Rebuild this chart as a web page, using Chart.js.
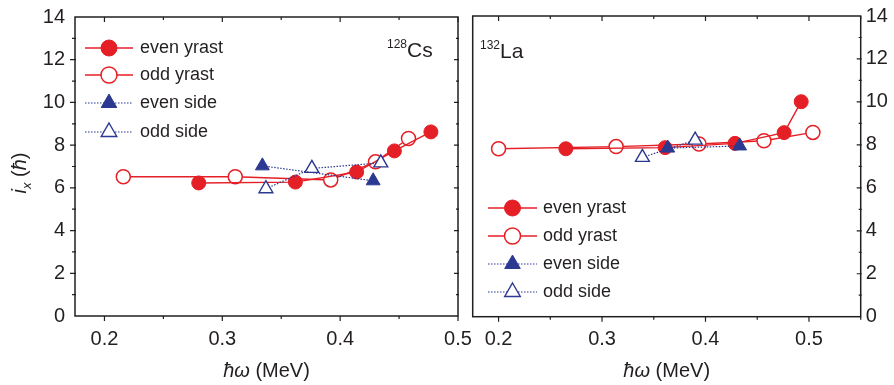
<!DOCTYPE html>
<html>
<head>
<meta charset="utf-8">
<script src="https://cdn.jsdelivr.net/npm/chart.js@4/dist/chart.umd.min.js"></script>
<style>
  html, body { margin: 0; padding: 0; background: #fff; }
  #wrap { position: relative; width: 894px; height: 385px; overflow: hidden; }
  #wrap canvas { position: absolute; top: 0; }
</style>
</head>
<body>
<div id="wrap">
  <canvas id="csChart" width="480" height="385" style="left:0"></canvas>
  <canvas id="laChart" width="434" height="385" style="left:460px"></canvas>
</div>
<script>
// 128Cs
var csEvenYrastX = [0.280, 0.362, 0.414, 0.446, 0.477];
var csEvenYrastY = [6.23, 6.27, 6.74, 7.73, 8.62];
var csOddYrastX  = [0.216, 0.311, 0.392, 0.430, 0.458];
var csOddYrastY  = [6.52, 6.52, 6.37, 7.22, 8.31];
var csEvenSideX  = [0.334, 0.428];
var csEvenSideY  = [7.03, 6.33];
var csOddSideX   = [0.337, 0.376, 0.4345];
var csOddSideY   = [5.96, 6.91, 7.17];

// 132La
var laEvenYrastX = [0.265, 0.361, 0.4285, 0.476, 0.4925];
var laEvenYrastY = [7.82, 7.87, 8.07, 8.57, 10.01];
var laOddYrastX  = [0.200, 0.3136, 0.3937, 0.4565, 0.5038];
var laOddYrastY  = [7.82, 7.92, 8.04, 8.19, 8.58];
var laEvenSideX  = [0.3635, 0.433];
var laEvenSideY  = [7.85, 7.95];
var laOddSideX   = [0.339, 0.390];
var laOddSideY   = [7.42, 8.22];

var seriesNames = ['even yrast', 'odd yrast', 'even side', 'odd side'];
var yTicks = [0, 2, 4, 6, 8, 10, 12, 14];
var xTicks = [0.2, 0.3, 0.4, 0.5];

var RED = '#e41f26';
var BLUE = '#2b3990';
var INK = '#231f20';
var FONT = '"Liberation Sans", Arial, sans-serif';

function pts(xs, ys) {
  var out = [];
  for (var i = 0; i < xs.length; i++) out.push({x: xs[i], y: ys[i]});
  return out;
}

function makeSets(ey, oy, es, os) {
  // side bands go first so they are painted over the yrast curves
  return [
    {label: seriesNames[2], data: es, borderColor: BLUE, backgroundColor: BLUE,
     borderWidth: 1.2, borderDash: [1.5, 1.5], pointStyle: 'triangle', pointRadius: 8,
     pointBorderWidth: 1, pointBackgroundColor: BLUE, pointBorderColor: BLUE},
    {label: seriesNames[3], data: os, borderColor: BLUE, backgroundColor: '#fff',
     borderWidth: 1.2, borderDash: [1.5, 1.5], pointStyle: 'triangle', pointRadius: 8,
     pointBorderWidth: 1.4, pointBackgroundColor: '#fff', pointBorderColor: BLUE},
    {label: seriesNames[0], data: ey, borderColor: RED, backgroundColor: RED,
     borderWidth: 1.4, pointStyle: 'circle', pointRadius: 7,
     pointBorderWidth: 1, pointBackgroundColor: RED, pointBorderColor: RED},
    {label: seriesNames[1], data: oy, borderColor: RED, backgroundColor: '#fff',
     borderWidth: 1.4, pointStyle: 'circle', pointRadius: 7,
     pointBorderWidth: 1.5, pointBackgroundColor: '#fff', pointBorderColor: RED}
  ];
}

// frame, in/out ticks, legend and extra labels
var decoPlugin = {
  id: 'deco',
  afterDraw: function(chart) {
    var o = chart.options.plugins.deco;
    var ctx = chart.ctx, a = chart.chartArea;
    var sx = chart.scales.x, sy = chart.scales.y;
    ctx.save();
    ctx.strokeStyle = INK;
    ctx.lineWidth = 1.5;
    ctx.strokeRect(a.left, a.top, a.right - a.left, a.bottom - a.top);

    ctx.lineWidth = 1.2;
    ctx.beginPath();
    for (var v = 0.15; v <= sx.max + 1e-9; v += 0.05) {
      if (v < sx.min - 1e-9) continue;
      var major = Math.abs(Math.round(v * 10) - v * 10) < 1e-6;
      var px = sx.getPixelForValue(v);
      var len = major ? 5 : 3;
      ctx.moveTo(px, a.bottom); ctx.lineTo(px, a.bottom + len);
      ctx.moveTo(px, a.top); ctx.lineTo(px, a.top + len);
    }
    for (var k = 1; k < 14; k++) {
      var py = sy.getPixelForValue(k);
      var l = (k % 2 === 0) ? 5 : 3;
      if (o.leftTicks) { ctx.moveTo(a.left - l, py); ctx.lineTo(a.left + 1, py); }
      ctx.moveTo(a.right - l + 1, py); ctx.lineTo(a.right + 1, py);
    }
    ctx.stroke();

    // legend drawn from the dataset styles
    ctx.fillStyle = INK;
    ctx.font = '18px ' + FONT;
    ctx.textBaseline = 'middle';
    var order = [2, 3, 0, 1];
    for (var i = 0; i < order.length; i++) {
      var ds = chart.data.datasets[order[i]];
      var ly = o.legend.y[i];
      ctx.save();
      ctx.strokeStyle = ds.borderColor;
      ctx.lineWidth = ds.borderWidth;
      ctx.setLineDash(ds.borderDash || []);
      ctx.beginPath();
      ctx.moveTo(o.legend.x1, ly); ctx.lineTo(o.legend.x2, ly);
      ctx.stroke();
      ctx.setLineDash([]);
      ctx.fillStyle = ds.pointBackgroundColor;
      ctx.strokeStyle = ds.pointBorderColor;
      ctx.lineWidth = ds.pointBorderWidth;
      Chart.helpers.drawPoint(ctx, {pointStyle: ds.pointStyle, radius: ds.pointRadius + 1,
        borderWidth: ds.pointBorderWidth, rotation: 0}, (o.legend.x1 + o.legend.x2) / 2, ly);
      ctx.restore();
      ctx.fillText(ds.label, o.legend.tx, ly);
    }

    // nuclide label
    ctx.textBaseline = 'alphabetic';
    ctx.font = '12px ' + FONT;
    ctx.fillText(o.mass, o.nucX, o.nucY - 9);
    var mw = ctx.measureText(o.mass).width;
    ctx.font = '21px ' + FONT;
    ctx.fillText(o.element, o.nucX + mw, o.nucY);

    // x title: italic hbar-omega then (MeV)
    var cx = (a.left + a.right) / 2;
    ctx.font = 'italic 20px ' + FONT;
    var w1 = ctx.measureText('ħω').width;
    ctx.font = '20px ' + FONT;
    var w2 = ctx.measureText(' (MeV)').width;
    var x0 = cx - (w1 + w2) / 2;
    ctx.font = 'italic 20px ' + FONT;
    ctx.fillText('ħω', x0, 377);
    ctx.font = '20px ' + FONT;
    ctx.fillText(' (MeV)', x0 + w1, 377);

    // y title
    if (o.yTitle) {
      var parts = [
        ['i', 'italic 20px ', 0],
        ['x', 'italic 13px ', 5],
        [' (', '20px ', 0],
        ['ħ', 'italic 20px ', 0],
        [')', '20px ', 0]
      ];
      var tw = 0;
      parts.forEach(function(p) { ctx.font = p[1] + FONT; tw += ctx.measureText(p[0]).width; });
      ctx.translate(26, 173);
      ctx.rotate(-Math.PI / 2);
      var tx = -tw / 2;
      parts.forEach(function(p) {
        ctx.font = p[1] + FONT;
        ctx.fillText(p[0], tx, p[2]);
        tx += ctx.measureText(p[0]).width;
      });
    }
    ctx.restore();
  }
};

function noPad(s) {
  s.paddingLeft = 0; s.paddingRight = 0; s.paddingTop = 0; s.paddingBottom = 0;
}

function makeChart(id, sets, cfg) {
  return new Chart(document.getElementById(id), {
    type: 'line',
    data: {datasets: sets},
    options: {
      responsive: false,
      animation: false,
      layout: {padding: cfg.padding},
      plugins: {
        legend: {display: false},
        tooltip: {enabled: false},
        deco: cfg.deco
      },
      scales: {
        x: {
          type: 'linear', min: 0.175, max: cfg.xMax,
          grid: {display: false, drawTicks: false, tickLength: 0}, border: {display: false},
          afterBuildTicks: function(s) { s.ticks = xTicks.map(function(v) { return {value: v}; }); },
          ticks: {padding: 11, color: INK, font: {family: FONT, size: 20}, maxRotation: 0,
                  callback: function(v) { return v.toFixed(1); }},
          afterFit: function(s) { s.height = cfg.xHeight; noPad(s); }
        },
        y: {
          type: 'linear', position: cfg.yPos, min: 0, max: 14,
          grid: {display: false, drawTicks: false, tickLength: 0}, border: {display: false},
          afterBuildTicks: function(s) { s.ticks = yTicks.map(function(v) { return {value: v}; }); },
          ticks: {padding: cfg.yPad, color: INK, font: {family: FONT, size: 20}},
          afterFit: function(s) { s.width = cfg.yWidth; noPad(s); }
        }
      }
    },
    plugins: [decoPlugin]
  });
}

makeChart('csChart',
  makeSets(pts(csEvenYrastX, csEvenYrastY), pts(csOddYrastX, csOddYrastY),
           pts(csEvenSideX, csEvenSideY), pts(csOddSideX, csOddSideY)),
  {
    padding: {top: 17, right: 22, left: 0, bottom: 0},
    xMax: 0.5, xHeight: 69, yPos: 'left', yWidth: 75, yPad: 10,
    deco: {leftTicks: true, yTitle: true, mass: '128', element: 'Cs', nucX: 387, nucY: 57,
           legend: {x1: 85, x2: 133, tx: 140, y: [48, 75, 103, 132]}}
  });

makeChart('laChart',
  makeSets(pts(laEvenYrastX, laEvenYrastY), pts(laOddYrastX, laOddYrastY),
           pts(laEvenSideX, laEvenSideY), pts(laOddSideX, laOddSideY)),
  {
    padding: {top: 16, right: 0, left: 12.7, bottom: 0},
    xMax: 0.55, xHeight: 68.3, yPos: 'right', yWidth: 33.3, yPad: 5,
    deco: {leftTicks: false, yTitle: false, mass: '132', element: 'La', nucX: 20, nucY: 58,
           legend: {x1: 28, x2: 77, tx: 83, y: [208, 236, 264, 292]}}
  });
</script>
</body>
</html>
